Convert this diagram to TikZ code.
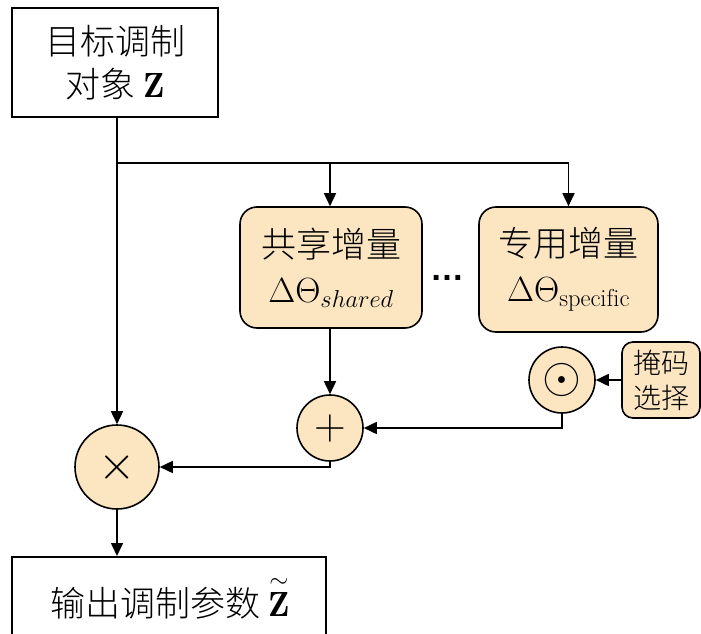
\RequirePackage{fix-cm}
\documentclass[tikz,border=0pt]{standalone}
\usepackage{fontspec}
\usepackage{amsmath}
\newfontfamily\cjk{Noto Sans CJK SC Light}
\newfontfamily\dotfont{Liberation Sans}
\usetikzlibrary{arrows.meta}
\definecolor{boxfill}{RGB}{252,229,193}
\tikzset{
  every node/.style={inner sep=0pt},
  plainbox/.style={draw, line width=1.6pt, rectangle, align=center},
  roundbox/.style={draw, line width=1.6pt, rectangle, rounded corners=17pt, fill=boxfill, align=center},
  opcircle/.style={draw, line width=1.6pt, circle, fill=boxfill},
  link/.style={line width=1.6pt},
  arr/.style={link, -{Triangle[length=13pt,width=12pt]}},
  big/.style={font=\cjk\fontsize{35}{45}\selectfont},
  small/.style={font=\cjk\fontsize{28}{35}\selectfont},
}
\begin{document}
\begin{tikzpicture}[x=1pt,y=-1pt]
  \useasboundingbox (0,0) rectangle (701,634);

  % input and output boxes
  \node[plainbox, big, minimum width=206pt, minimum height=109pt] (top) at (115,62.5)
    {目标调制\\[-2pt]对象 $\mathbf{Z}$};
  \node[plainbox, big, minimum width=314pt, minimum height=86pt, anchor=north] (out) at (169,556) {};
  \node[big] (outtxt) at (170,598) {输出调制参数\ $\overset{\sim}{\mathbf{Z}}$};

  % increment boxes
  \node[roundbox, big, minimum width=182pt, minimum height=121pt] (shared) at (331,267.5)
    {共享增量\\$\Delta\Theta_{shared}$};
  \node[roundbox, big, minimum width=179pt, minimum height=125pt] (spec) at (568.5,269.5)
    {专用增量\\$\Delta\Theta_{\mathrm{specific}}$};
  \node[font=\dotfont\bfseries\fontsize{34}{34}\selectfont] (dots) at (447,278) {…};

  % mask selection
  \node[roundbox, small, rounded corners=11pt, minimum width=78pt, minimum height=76pt] (mask) at (661,380)
    {掩码\\选择};

  % operators
  \node[opcircle, font=\fontsize{50}{50}\selectfont, minimum size=66pt] (odot) at (562,380) {$\odot$};
  \node[opcircle, font=\fontsize{44}{44}\selectfont, minimum size=66pt] (plus) at (330,428) {$+$};
  \node[opcircle, font=\fontsize{48}{48}\selectfont, minimum size=84pt] (times) at (117,467) {$\times$};

  % connectors
  \coordinate (br) at (117,163);
  \draw[arr] (times.north |- top.south) -- (times.north);
  \draw[link] (br) -- (spec.north |- br);
  \draw[arr] (plus.north |- br) -- (plus.north |- shared.north);
  \draw[arr] (spec.north |- br) -- (spec.north);
  \draw[arr] (plus.north |- shared.south) -- (plus.north);
  \draw[arr] (mask.west) -- (odot.east);
  \draw[arr] (odot.south) |- (plus.east);
  \draw[arr] (plus.south) |- (times.east);
  \draw[arr] (times.south) -- (times.south |- out.north);
\end{tikzpicture}
\end{document}
